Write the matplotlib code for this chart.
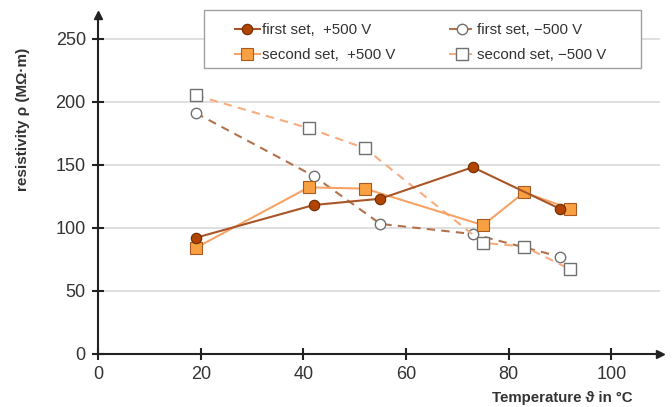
import matplotlib
matplotlib.use("Agg")
import matplotlib.pyplot as plt
from matplotlib.patches import Rectangle

plt.rcParams['font.family'] = ['Liberation Sans', 'DejaVu Sans']

# data
t_first_pos = [19, 42, 55, 73, 90]
r_first_pos = [92, 118, 123, 148, 115]

t_second_pos = [19, 41, 52, 75, 83, 92]
r_second_pos = [84, 132, 131, 102, 128, 115]

t_first_neg = [19, 42, 55, 73, 90]
r_first_neg = [191, 141, 103, 95, 77]

t_second_neg = [19, 41, 52, 75, 83, 92]
r_second_neg = [205, 179, 163, 88, 85, 67]

x_ticks = [0, 20, 40, 60, 80, 100]
y_ticks = [0, 50, 100, 150, 200, 250]

W, H = 672, 407
fig = plt.figure(figsize=(W / 100, H / 100), dpi=100)
ax = fig.add_axes([98.3 / W, (H - 353.7) / H, 561.7 / W, 338.7 / H])

dark = '#a85527'
orange = '#f7a366'

l1, = ax.plot(t_first_pos, r_first_pos, '-o', color=dark, lw=1.5,
              markersize=7.5, markerfacecolor='#b04400', markeredgecolor='#6e2b00',
              markeredgewidth=0.8, zorder=5, label='first set,  +500 V')
l3, = ax.plot(t_first_neg, r_first_neg, '--o', color='#b3724c', lw=1.5, dashes=(4, 3),
              markersize=7.5, markerfacecolor='white', markeredgecolor='#707070',
              markeredgewidth=1.0, zorder=3, label='first set, \u2212500 V')
l2, = ax.plot(t_second_pos, r_second_pos, '-s', color=orange, lw=1.5,
              markersize=8, markerfacecolor='#f9a042', markeredgecolor='#a85a20',
              markeredgewidth=0.8, zorder=4, label='second set,  +500 V')
l4, = ax.plot(t_second_neg, r_second_neg, '--s', color='#f8ad80', lw=1.5, dashes=(4, 3),
              markersize=8, markerfacecolor='white', markeredgecolor='#707070',
              markeredgewidth=1.0, zorder=3, label='second set, \u2212500 V')

ax.set_xlim(0, 109.5)
ax.set_ylim(0, 268.8)
ax.set_xticks(x_ticks)
ax.set_yticks(y_ticks)
ax.yaxis.grid(True, color='#d9d9d9', lw=1.2)
ax.set_axisbelow(True)

for s in ['top', 'right']:
    ax.spines[s].set_visible(False)
for s in ['left', 'bottom']:
    ax.spines[s].set_linewidth(1.5)
    ax.spines[s].set_color('#222222')

ax.tick_params(direction='inout', length=8, width=1.5, color='#222222',
               labelsize=13, labelcolor='#333333')
ax.tick_params(axis='x', pad=5)
ax.tick_params(axis='y', pad=5)

# arrow heads on the axes
ax.plot(1, 0, '>', color='#222222', markersize=6, transform=ax.get_yaxis_transform(), clip_on=False)
ax.plot(0, 1, '^', color='#222222', markersize=6, transform=ax.get_xaxis_transform(), clip_on=False)

fig.text(23 / W, 1 - 119.5 / H, 'resistivity \u03c1 (M\u03a9\u00b7m)', rotation=90,
         ha='center', va='center', fontsize=11, fontweight='bold', color='#333333')
fig.text(633 / W, 1 - 398 / H, 'Temperature \u03d1 in \u00b0C',
         ha='right', va='center', fontsize=10.8, fontweight='bold', color='#333333')

# legend with a hand-drawn frame
fig.patches.append(Rectangle((204 / W, 1 - 68 / H), (641 - 204) / W, 58 / H,
                             transform=fig.transFigure, facecolor='white',
                             edgecolor='#a0a0a0', lw=1.0, zorder=10))
leg = fig.legend(handles=[l1, l2, l3, l4], ncol=2, loc='upper left',
                 bbox_to_anchor=(221 / W, 1 - 10 / H), frameon=False,
                 fontsize=10.8, handlelength=1.7, handletextpad=0.15,
                 columnspacing=3.55, labelspacing=0.7, borderpad=0.4)
leg.set_zorder(11)
for t in leg.get_texts():
    t.set_color('#333333')

fig.savefig('out.png', dpi=100)
